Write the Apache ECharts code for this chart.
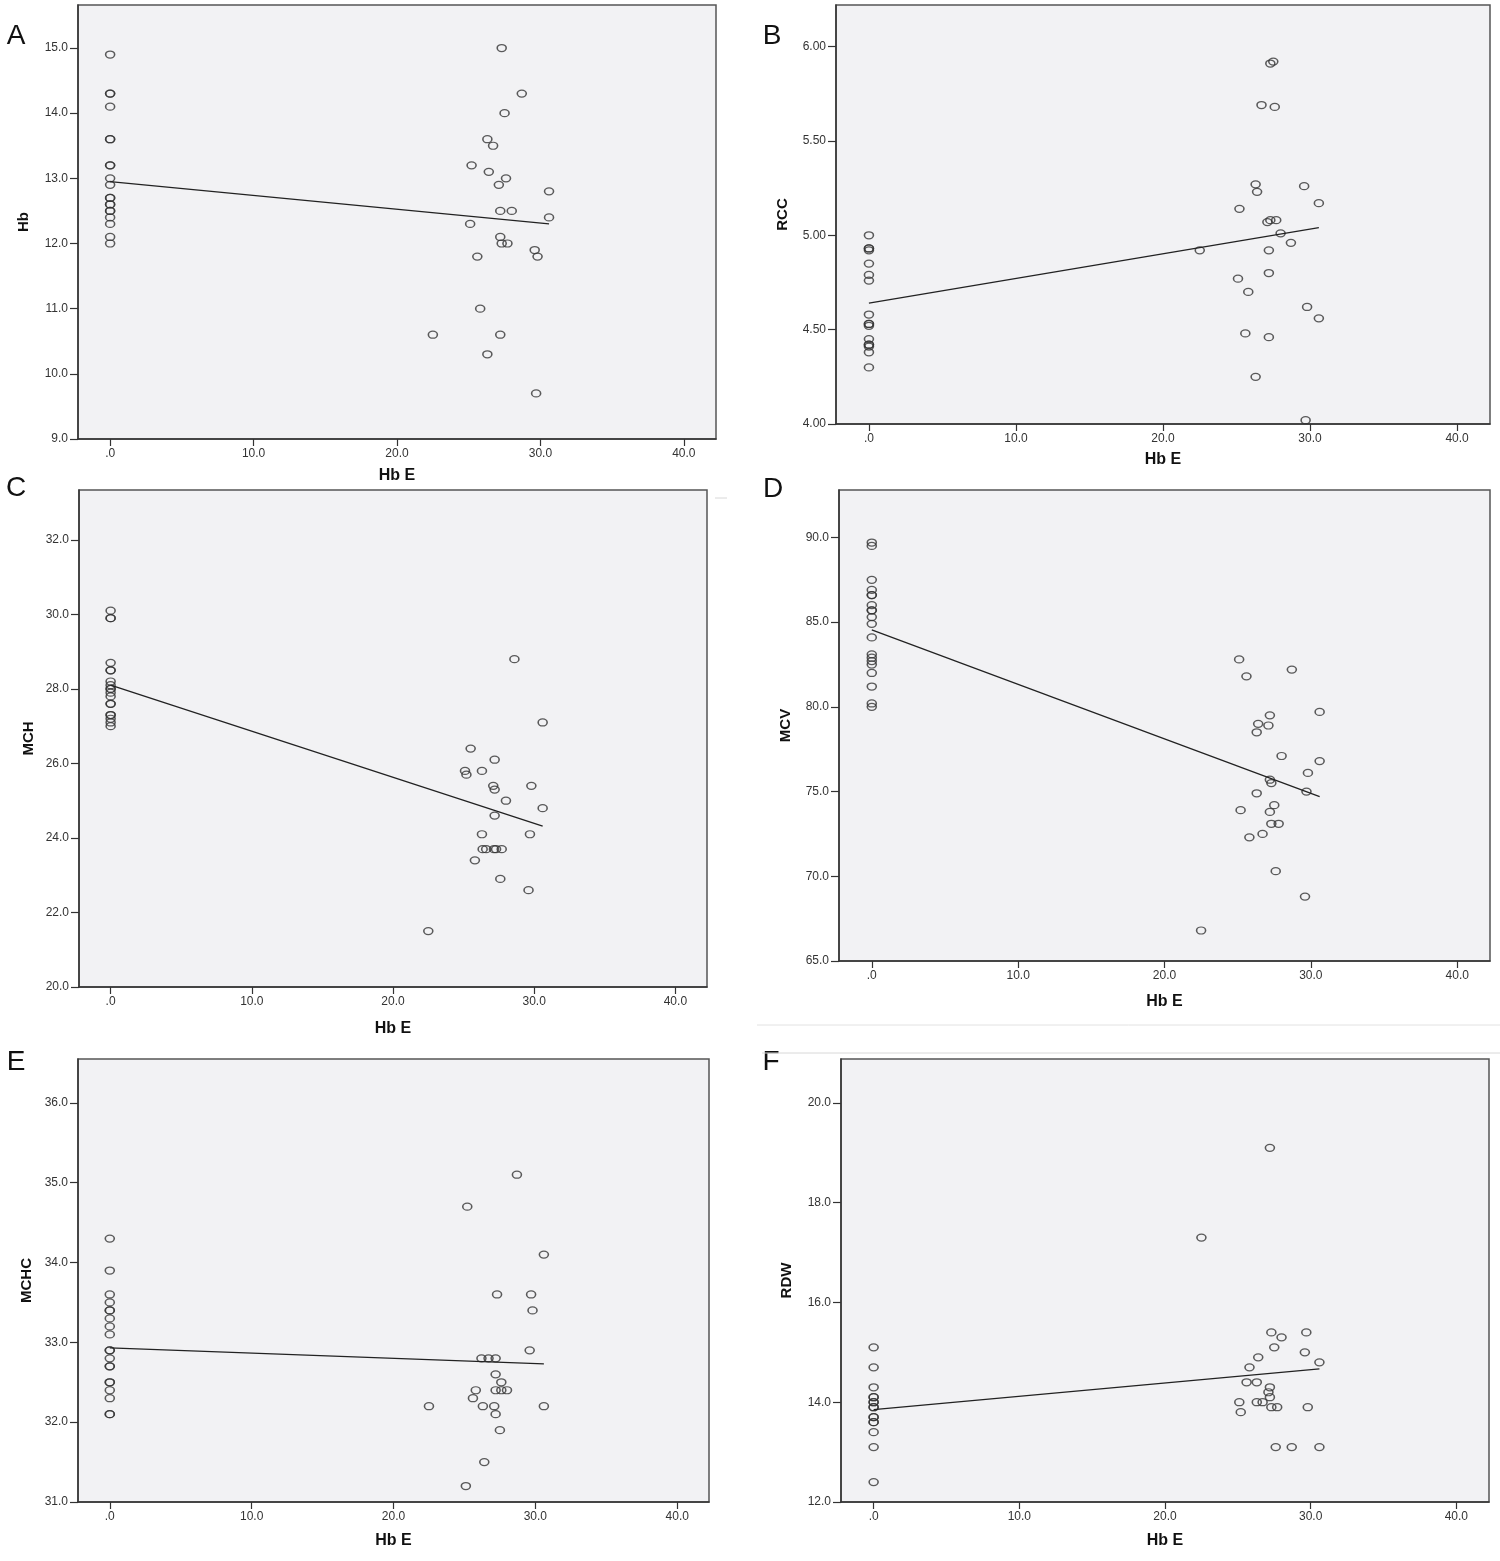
<!DOCTYPE html>
<html style="height: 100%">
  <head>
    <meta charset="utf-8" />
  </head>
  <body style="height: 100%; margin: 0; background: #ffffff">
    <div id="container" style="width: 1500px; height: 1561px"></div>

    <script src="https://cdn.jsdelivr.net/npm/echarts@6/dist/echarts.min.js"></script>
    <script type="text/javascript">
      // x axis is Hb E (%) for every panel; the normal group sits at x = 0
      var xTicks = [0, 10, 20, 30, 40];
      var xMin = -2.24;
      var xMax = 42.24;

      // A - Hb
      var hbCtrl = [14.9, 14.3, 14.3, 14.1, 13.6, 13.6, 13.2, 13.2, 13.0, 12.9, 12.7, 12.7, 12.6, 12.6, 12.5, 12.5, 12.4, 12.3, 12.1, 12.0];
      var hbCases = [[27.3, 15.0], [28.7, 14.3], [27.5, 14.0], [26.3, 13.6], [26.7, 13.5], [25.2, 13.2], [26.4, 13.1], [27.6, 13.0], [27.1, 12.9], [30.6, 12.8], [27.2, 12.5], [28.0, 12.5], [30.6, 12.4], [25.1, 12.3], [27.2, 12.1], [27.3, 12.0], [27.7, 12.0], [29.6, 11.9], [29.8, 11.8], [25.6, 11.8], [25.8, 11.0], [22.5, 10.6], [27.2, 10.6], [26.3, 10.3], [29.7, 9.7]];
      var hbFit = [[0, 12.95], [30.6, 12.3]];
      var hbTicks = [9, 10, 11, 12, 13, 14, 15];

      // B - RCC
      var rccCtrl = [5.0, 4.93, 4.93, 4.92, 4.85, 4.79, 4.76, 4.58, 4.53, 4.53, 4.52, 4.45, 4.42, 4.42, 4.41, 4.38, 4.3];
      var rccCases = [[27.3, 5.91], [27.5, 5.92], [26.7, 5.69], [27.6, 5.68], [26.3, 5.27], [26.4, 5.23], [29.6, 5.26], [30.6, 5.17], [25.2, 5.14], [27.1, 5.07], [27.3, 5.08], [27.7, 5.08], [28.0, 5.01], [28.7, 4.96], [22.5, 4.92], [27.2, 4.92], [27.2, 4.8], [25.1, 4.77], [25.8, 4.7], [29.8, 4.62], [30.6, 4.56], [25.6, 4.48], [27.2, 4.46], [26.3, 4.25], [29.7, 4.02]];
      var rccFit = [[0, 4.64], [30.6, 5.04]];
      var rccTicks = [4.0, 4.5, 5.0, 5.5, 6.0];

      // C - MCH
      var mchCtrl = [30.1, 29.9, 29.9, 28.7, 28.5, 28.5, 28.2, 28.1, 28.0, 28.0, 27.9, 27.8, 27.6, 27.6, 27.3, 27.3, 27.2, 27.1, 27.0];
      var mchCases = [[28.6, 28.8], [30.6, 27.1], [25.5, 26.4], [27.2, 26.1], [25.1, 25.8], [25.2, 25.7], [26.3, 25.8], [27.1, 25.4], [27.2, 25.3], [29.8, 25.4], [28.0, 25.0], [30.6, 24.8], [27.2, 24.6], [26.3, 24.1], [29.7, 24.1], [26.35, 23.7], [26.6, 23.7], [27.15, 23.7], [27.3, 23.7], [27.7, 23.7], [25.8, 23.4], [27.6, 22.9], [29.6, 22.6], [22.5, 21.5]];
      var mchFit = [[0, 28.1], [30.6, 24.32]];
      var mchTicks = [20, 22, 24, 26, 28, 30, 32];

      // D - MCV
      var mcvCtrl = [89.7, 89.5, 87.5, 86.9, 86.6, 86.6, 86.0, 85.7, 85.7, 85.3, 84.9, 84.1, 83.1, 82.9, 82.7, 82.5, 82.0, 81.2, 80.2, 80.0];
      var mcvCases = [[25.1, 82.8], [25.6, 81.8], [28.7, 82.2], [30.6, 79.7], [27.2, 79.5], [26.4, 79.0], [27.1, 78.9], [26.3, 78.5], [28.0, 77.1], [30.6, 76.8], [29.8, 76.1], [27.2, 75.7], [27.3, 75.5], [29.7, 75.0], [26.3, 74.9], [27.5, 74.2], [27.2, 73.8], [25.2, 73.9], [27.3, 73.1], [27.8, 73.1], [26.7, 72.5], [25.8, 72.3], [27.6, 70.3], [29.6, 68.8], [22.5, 66.8]];
      var mcvFit = [[0, 84.55], [30.6, 74.7]];
      var mcvTicks = [65, 70, 75, 80, 85, 90];

      // E - MCHC
      var mchcCtrl = [34.3, 33.9, 33.6, 33.5, 33.4, 33.4, 33.3, 33.2, 33.1, 32.9, 32.9, 32.8, 32.7, 32.7, 32.5, 32.5, 32.4, 32.3, 32.1, 32.1];
      var mchcCases = [[28.7, 35.1], [25.2, 34.7], [30.6, 34.1], [27.3, 33.6], [29.7, 33.6], [29.8, 33.4], [29.6, 32.9], [26.2, 32.8], [26.7, 32.8], [27.2, 32.8], [27.2, 32.6], [27.6, 32.5], [25.8, 32.4], [27.2, 32.4], [27.6, 32.4], [28.0, 32.4], [25.6, 32.3], [22.5, 32.2], [26.3, 32.2], [27.1, 32.2], [30.6, 32.2], [27.2, 32.1], [27.5, 31.9], [26.4, 31.5], [25.1, 31.2]];
      var mchcFit = [[0, 32.93], [30.6, 32.73]];
      var mchcTicks = [31, 32, 33, 34, 35, 36];

      // F - RDW
      var rdwCtrl = [15.1, 14.7, 14.3, 14.1, 14.1, 14.0, 14.0, 13.9, 13.9, 13.7, 13.7, 13.6, 13.6, 13.4, 13.1, 12.4];
      var rdwCases = [[27.2, 19.1], [22.5, 17.3], [27.3, 15.4], [29.7, 15.4], [28.0, 15.3], [27.5, 15.1], [29.6, 15.0], [26.4, 14.9], [30.6, 14.8], [25.8, 14.7], [25.6, 14.4], [26.3, 14.4], [27.2, 14.3], [27.1, 14.2], [27.2, 14.1], [25.1, 14.0], [26.3, 14.0], [26.7, 14.0], [27.3, 13.9], [27.7, 13.9], [29.8, 13.9], [25.2, 13.8], [27.6, 13.1], [28.7, 13.1], [30.6, 13.1]];
      var rdwFit = [[0, 13.85], [30.6, 14.67]];
      var rdwTicks = [12, 14, 16, 18, 20];

      var panels = [
        { letter: "A", name: "Hb", ctrl: hbCtrl, cases: hbCases, fit: hbFit, ticks: hbTicks, max: 15.66, digits: 1,
          grid: { left: 78, top: 5, width: 638, height: 434 }, yGap: 47, xGap: 29, lx: 16, ly: 36 },
        { letter: "B", name: "RCC", ctrl: rccCtrl, cases: rccCases, fit: rccFit, ticks: rccTicks, max: 6.22, digits: 2,
          grid: { left: 836, top: 5, width: 654, height: 419 }, yGap: 46, xGap: 28, lx: 772, ly: 36 },
        { letter: "C", name: "MCH", ctrl: mchCtrl, cases: mchCases, fit: mchFit, ticks: mchTicks, max: 33.34, digits: 1,
          grid: { left: 79, top: 490, width: 628, height: 497 }, yGap: 43, xGap: 34, lx: 16, ly: 488 },
        { letter: "D", name: "MCV", ctrl: mcvCtrl, cases: mcvCases, fit: mcvFit, ticks: mcvTicks, max: 92.8, digits: 1,
          grid: { left: 839, top: 490, width: 651, height: 471 }, yGap: 46, xGap: 33, lx: 773, ly: 489 },
        { letter: "E", name: "MCHC", ctrl: mchcCtrl, cases: mchcCases, fit: mchcFit, ticks: mchcTicks, max: 36.55, digits: 1,
          grid: { left: 78, top: 1059, width: 631, height: 443 }, yGap: 44, xGap: 31, lx: 16, ly: 1062 },
        { letter: "F", name: "RDW", ctrl: rdwCtrl, cases: rdwCases, fit: rdwFit, ticks: rdwTicks, max: 20.88, digits: 1,
          grid: { left: 841, top: 1059, width: 648, height: 443 }, yGap: 47, xGap: 31, lx: 771, ly: 1062 },
      ];

      var font = "'Liberation Sans', Arial, sans-serif";
      var grids = [], xAxes = [], yAxes = [], series = [], graphics = [];

      panels.forEach(function (p, i) {
        grids.push({
          left: p.grid.left, top: p.grid.top, width: p.grid.width, height: p.grid.height,
          show: true, backgroundColor: "#f2f2f4", borderColor: "#555", borderWidth: 1.5,
        });
        xAxes.push({
          gridIndex: i, type: "value", min: xMin, max: xMax,
          name: "Hb E", nameLocation: "middle", nameGap: p.xGap,
          nameTextStyle: { fontFamily: font, fontWeight: "bold", fontSize: 16, color: "#111" },
          axisLine: { show: true, onZero: false, lineStyle: { color: "#333", width: 1.5 } },
          axisTick: { show: true, length: 7, customValues: xTicks, lineStyle: { color: "#333", width: 1.2 } },
          axisLabel: {
            customValues: xTicks, margin: 9, fontFamily: font, fontSize: 12, color: "#333",
            formatter: function (v) { return v === 0 ? ".0" : v.toFixed(1); },
          },
          splitLine: { show: false },
        });
        yAxes.push({
          gridIndex: i, type: "value", min: p.ticks[0], max: p.max,
          name: p.name, nameLocation: "middle", nameRotate: 90, nameGap: p.yGap,
          nameTextStyle: { fontFamily: font, fontWeight: "bold", fontSize: 15, color: "#111" },
          axisLine: { show: true, onZero: false, lineStyle: { color: "#333", width: 1.5 } },
          axisTick: { show: true, length: 8, customValues: p.ticks, lineStyle: { color: "#333", width: 1.2 } },
          axisLabel: {
            customValues: p.ticks, margin: 10, fontFamily: font, fontSize: 12, color: "#333",
            formatter: (function (d) { return function (v) { return v.toFixed(d); }; })(p.digits),
          },
          splitLine: { show: false },
        });
        var pts = p.ctrl.map(function (v) { return [0, v]; }).concat(p.cases);
        series.push({
          type: "scatter", xAxisIndex: i, yAxisIndex: i, data: pts,
          symbol: "circle", symbolSize: [9, 7],
          itemStyle: { color: "rgba(0,0,0,0)", borderColor: "#333", borderWidth: 1.4 },
        });
        series.push({
          type: "line", xAxisIndex: i, yAxisIndex: i, data: p.fit,
          symbol: "none", lineStyle: { color: "#222", width: 1.3 },
        });
        graphics.push({
          type: "text", x: p.lx, y: p.ly,
          style: { text: p.letter, font: "28px " + font, fill: "#111", textAlign: "center", textVerticalAlign: "middle" },
        });
      });

      // faint separators left over from the figure assembly
      graphics.push({ type: "line", shape: { x1: 757, y1: 1025, x2: 1500, y2: 1025 }, style: { stroke: "#e2e2e2", lineWidth: 1 } });
      graphics.push({ type: "line", shape: { x1: 762, y1: 1053, x2: 1500, y2: 1053 }, style: { stroke: "#d8d8d8", lineWidth: 1 } });
      graphics.push({ type: "line", shape: { x1: 715, y1: 498, x2: 727, y2: 498 }, style: { stroke: "#d8d8d8", lineWidth: 1 } });

      var myChart = echarts.init(document.getElementById("container"), null, { renderer: "canvas" });
      myChart.setOption({
        backgroundColor: "#ffffff",
        animation: false,
        grid: grids,
        xAxis: xAxes,
        yAxis: yAxes,
        series: series,
        graphic: graphics,
      });
    </script>
  </body>
</html>
